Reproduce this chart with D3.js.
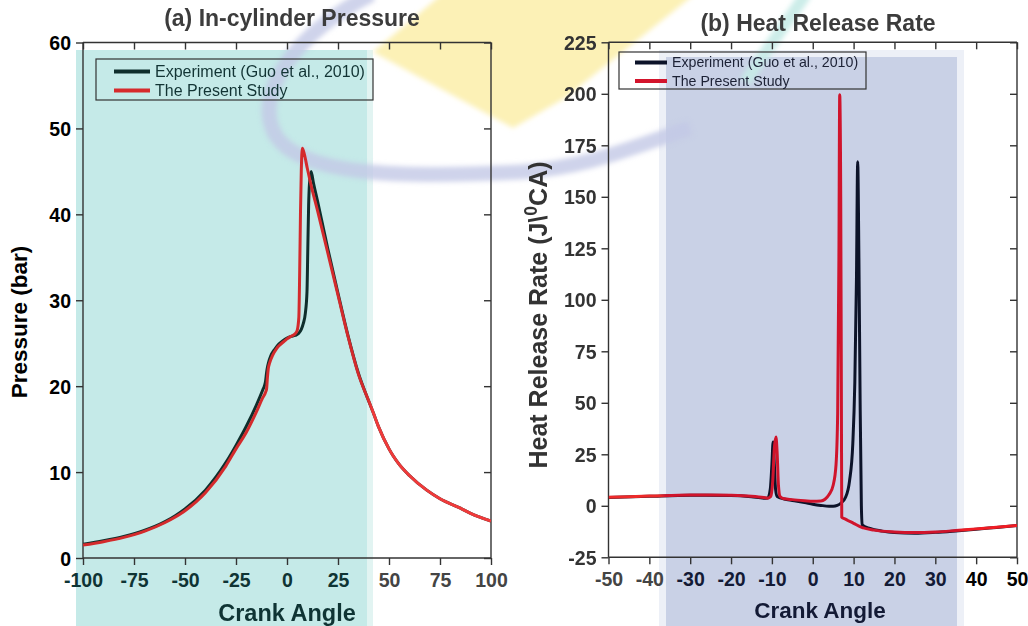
<!DOCTYPE html>
<html>
<head>
<meta charset="utf-8">
<script src="https://cdn.jsdelivr.net/npm/d3@7/dist/d3.min.js"></script>
<style>
  html, body { margin: 0; padding: 0; background: #fff; }
  svg { display: block; font-family: "Liberation Sans", Arial, sans-serif; }
</style>
</head>
<body>
<svg id="chart" width="1028" height="626"></svg>
<script>
// ---------------- DATA ----------------
// (a) In-cylinder pressure [bar] vs crank angle [deg]
const pExpAngle = [-100,-90,-80,-70,-60,-50,-40,-30,-25,-20,-15,-12,-11,-10.5,-10,-9.5,-9,-8,-6,-4,-2,0,2,4,5.5,7,8,9,9.8,10.2,10.6,11,11.8,13,15,18,20,25,30,35,40,42.3,45,50,52,55,60,68.5,75,85,90,100];
const pExp      = [1.6,2.0,2.5,3.2,4.2,5.7,7.9,11.1,13.1,15.3,17.8,19.5,20.1,20.6,21.6,22.3,22.8,23.5,24.3,24.9,25.3,25.6,25.8,25.9,26.1,26.6,27.3,28.5,31,36,41,43.5,45,43.6,41.5,38.2,36.0,30.8,25.8,21.5,18.3,16.9,15.2,12.7,11.9,10.9,9.6,7.9,6.9,5.8,5.2,4.3];
const pSimAngle = [-100,-90,-80,-70,-60,-50,-40,-30,-25,-20,-15,-12,-10.5,-10,-9.6,-9.2,-8.5,-7,-5,-3,-1,0,2,4,5,5.8,6.2,6.6,7,7.5,8.5,10,12,15,20,25,30,35,40,42.3,45,50,52,55,60,68.5,75,85,90,100];
const pSim      = [1.5,1.9,2.4,3.1,4.1,5.5,7.6,10.7,12.7,14.6,17.0,18.6,19.3,19.7,21.0,22.0,22.7,23.6,24.4,24.9,25.3,25.5,25.8,26.1,26.5,28,33,40,45,47.7,47,45.3,43.2,40.4,35.5,30.6,25.7,21.4,18.3,16.9,15.2,12.7,11.9,10.9,9.6,7.9,6.9,5.8,5.2,4.3];

// (b) Heat release rate [J/degCA] vs crank angle [deg]
const hExpAngle = [-50,-40,-30,-20,-15,-12,-11,-10.4,-10,-9.7,-9.4,-9.1,-8.7,-7,-5,-2,0,2,4,5,6,7,8,9,9.8,10.3,10.7,11.0,11.3,11.6,11.9,12.1,14,17,20,25,30,35,40,45,50];
const hExp      = [4.0,4.6,5.1,5.0,4.4,3.7,3.8,8,20,31,20,8,4.5,3.3,2.6,1.6,0.8,0.2,-0.2,-0.2,0.2,1.5,4,12,30,60,110,167,120,50,0,-9.3,-11,-12.3,-13,-13.3,-12.9,-12.2,-11.4,-10.5,-9.6];
const hSimAngle = [-50,-40,-30,-25,-20,-15,-12,-11,-10.3,-9.8,-9.4,-9.0,-8.7,-8.4,-8,-7,-5,-2,0,2,3,4,5,5.7,6.1,6.4,6.6,6.85,7.0,7.1,8,10,12,15,20,25,30,35,40,45,50];
const hSim      = [4.2,4.7,5.2,5.3,5.1,4.6,4.0,3.7,4.5,12,28,33.4,25,10,4.5,3.4,3.0,2.5,2.2,2.3,3.2,5.5,10,20,45,120,199.5,150,60,-5.5,-6.5,-8.5,-10.5,-11.8,-12.7,-13,-12.7,-12,-11.2,-10.4,-9.5];

const pXTicks = [-100,-75,-50,-25,0,25,50,75,100];
const pYTicks = [0,10,20,30,40,50,60];
const hXTicks = [-50,-40,-30,-20,-10,0,10,20,30,40,50];
const hYTicks = [-25,0,25,50,75,100,125,150,175,200,225];

const legendLabels = ["Experiment (Guo et al., 2010)", "The Present Study"];

// ---------------- DRAW ----------------
const svg = d3.select("#chart");
const defs = svg.append("defs");
defs.append("filter").attr("id","soft").append("feGaussianBlur").attr("stdDeviation", 2.5);
const fmt = d => String(d);

// Background shaded bands
svg.append("rect").attr("x",76).attr("y",50).attr("width",297).attr("height",576).attr("fill","#e2f4f2");
svg.append("rect").attr("x",76).attr("y",50).attr("width",291).attr("height",576).attr("fill","#c5eae8");
svg.append("rect").attr("x",659).attr("y",50).attr("width",305).attr("height",576).attr("fill","#edf0f7");
svg.append("rect").attr("x",666).attr("y",57).attr("width",291).attr("height",569).attr("fill","#c9d1e6");

// Watermark decoration
const wm = svg.append("g").attr("filter","url(#soft)");
wm.append("path").attr("d","M447,-10 L373,52 L513,128 L565,98 L700,-10 Z").attr("fill","#fcf1b6");
wm.append("path").attr("d","M372,-6 C300,30 250,92 276,136 C302,176 400,178 520,172 C585,168 625,150 690,128")
  .attr("fill","none").attr("stroke","#c3c8e6").attr("stroke-width",15).attr("opacity",0.8);
wm.append("path").attr("d","M806,-6 L745,82").attr("fill","none").attr("stroke","#c6ebe7").attr("stroke-width",12).attr("opacity",0.9);

function panel(cfg) {
  const g = svg.append("g");
  const x = d3.scaleLinear().domain(cfg.xDomain).range([cfg.left, cfg.right]);
  const y = d3.scaleLinear().domain(cfg.yDomain).range([cfg.bottom, cfg.top]);
  const clipId = "clip" + cfg.id;
  defs.append("clipPath").attr("id", clipId).append("rect")
    .attr("x", cfg.left).attr("y", cfg.top - 2).attr("width", cfg.right - cfg.left).attr("height", cfg.bottom - cfg.top + 2);

  // gradient for the red line (tinted inside the shaded band)
  const gradId = "grad" + cfg.id;
  const gr = defs.append("linearGradient").attr("id", gradId).attr("gradientUnits","userSpaceOnUse")
    .attr("x1", 0).attr("x2", 1028).attr("y1", 0).attr("y2", 0);
  cfg.simStops.forEach(s => gr.append("stop").attr("offset", s[0] / 1028).attr("stop-color", s[1]));

  const axColor = "#333";
  const bottomAx = g.append("g").attr("transform",`translate(0,${cfg.bottom})`)
    .call(d3.axisBottom(x).tickValues(cfg.xTicks).tickSize(7).tickPadding(7).tickFormat(fmt));
  const leftAx = g.append("g").attr("transform",`translate(${cfg.left},0)`)
    .call(d3.axisLeft(y).tickValues(cfg.yTicks).tickSize(7).tickPadding(5).tickFormat(fmt));
  const topAx = g.append("g").attr("transform",`translate(0,${cfg.top})`)
    .call(d3.axisBottom(x).tickValues(cfg.xTicks).tickSize(7).tickFormat(""));
  const rightAx = g.append("g").attr("transform",`translate(${cfg.right},0)`)
    .call(d3.axisLeft(y).tickValues(cfg.yTicks).tickSize(7).tickFormat(""));
  [bottomAx, leftAx, topAx, rightAx].forEach(a => {
    a.select(".domain").attr("stroke", axColor).attr("stroke-width", 1.4);
    a.selectAll(".tick line").attr("stroke", axColor).attr("stroke-width", 1.4);
  });
  topAx.select(".domain").attr("d", `M${cfg.left},0H${cfg.right}`);
  rightAx.select(".domain").attr("d", `M0,${y.range()[0]}V${y.range()[1]}`);
  bottomAx.select(".domain").attr("d", `M${cfg.left},0H${cfg.right}`);
  leftAx.select(".domain").attr("d", `M0,${y.range()[0]}V${y.range()[1]}`);
  bottomAx.selectAll(".tick text").attr("font-size", cfg.tickFont).attr("font-weight","bold")
    .attr("fill", d => cfg.xTickColor(x(d))).attr("dy","0.75em");
  leftAx.selectAll(".tick text").attr("font-size", cfg.tickFont).attr("font-weight","bold").attr("fill", cfg.yTickColor)
    .attr("dy","0.36em");

  // lines
  const line = d3.line().x(d => x(d[0])).y(d => y(d[1])).curve(d3.curveMonotoneX);
  const lg = g.append("g").attr("clip-path", `url(#${clipId})`);
  lg.append("path").datum(d3.zip(cfg.expX, cfg.expY)).attr("d", line)
    .attr("fill","none").attr("stroke", cfg.expColor).attr("stroke-width", 3).attr("stroke-linejoin","round");
  lg.append("path").datum(d3.zip(cfg.simX, cfg.simY)).attr("d", line)
    .attr("fill","none").attr("stroke", `url(#${gradId})`).attr("stroke-width", 3).attr("stroke-linejoin","round");

  // legend
  const L = cfg.legend;
  g.append("rect").attr("x", L.x).attr("y", L.y).attr("width", L.w).attr("height", L.h)
    .attr("fill","none").attr("stroke","#333").attr("stroke-width",1.2);
  legendLabels.forEach((t, i) => {
    const yy = L.y + L.row0 + i * L.rowH;
    g.append("line").attr("x1", L.lx1).attr("x2", L.lx2).attr("y1", yy).attr("y2", yy)
      .attr("stroke", i === 0 ? cfg.expColor : cfg.simColor).attr("stroke-width", 4);
    g.append("text").attr("x", L.tx).attr("y", yy).attr("dy","0.35em").attr("font-size", L.font)
      .attr("fill", L.textColor).text(t);
  });

  // titles
  g.append("text").attr("x", cfg.titleX).attr("y", cfg.titleY).attr("text-anchor","middle")
    .attr("font-size", 23).attr("font-weight","bold").attr("fill","#3c3c3c").text(cfg.title);
  g.append("text").attr("x", cfg.xLabelX).attr("y", cfg.xLabelY).attr("text-anchor","middle")
    .attr("font-size", cfg.xLabelFont).attr("font-weight","bold").attr("fill", cfg.xLabelColor).text("Crank Angle");
  const yl = g.append("text").attr("transform", `translate(${cfg.yLabelX},${cfg.yLabelY}) rotate(-90)`)
    .attr("text-anchor","middle").attr("font-size", cfg.yLabelFont).attr("font-weight","bold").attr("fill", cfg.yLabelColor);
  cfg.yLabelParts.forEach(p => {
    const ts = yl.append("tspan").text(p.t);
    if (p.sup) ts.attr("baseline-shift","super").attr("font-size", cfg.yLabelFont * 0.7);
  });
}

const BS = String.fromCharCode(92);

panel({
  id: "a",
  xDomain: [-100, 100], yDomain: [0, 60],
  left: 83, right: 491, top: 42.5, bottom: 558,
  xTicks: pXTicks, yTicks: pYTicks, tickFont: 19.5,
  xTickColor: px => (px < 370 ? "#0f3434" : "#444"),
  yTickColor: "#000",
  expX: pExpAngle, expY: pExp, simX: pSimAngle, simY: pSim,
  expColor: "#0f2e2c", simColor: "#d62a2c",
  simStops: [[0, "#d42a2c"], [367, "#d42a2c"], [373, "#f03a3a"], [1028, "#f03a3a"]],
  legend: { x: 96, y: 59, w: 277, h: 41, row0: 12.5, rowH: 19, lx1: 114, lx2: 150, tx: 155, font: 16, textColor: "#123434" },
  title: "(a) In-cylinder Pressure", titleX: 292, titleY: 26,
  xLabelX: 287, xLabelY: 621, xLabelFont: 23.5, xLabelColor: "#0f3434",
  yLabelX: 27, yLabelY: 322, yLabelFont: 22.5, yLabelColor: "#000",
  yLabelParts: [{t: "Pressure (bar)"}]
});

panel({
  id: "b",
  xDomain: [-50, 50], yDomain: [-25, 225],
  left: 608.5, right: 1017, top: 42.3, bottom: 557.3,
  xTicks: hXTicks, yTicks: hYTicks, tickFont: 19.5,
  xTickColor: px => (px < 660 ? "#444" : (px > 962 ? "#000" : "#131a35")),
  yTickColor: "#333",
  expX: hExpAngle, expY: hExp, simX: hSimAngle, simY: hSim,
  expColor: "#0c1329", simColor: "#d3142c",
  simStops: [[0, "#ee2a2a"], [660, "#ee2a2a"], [666, "#d0142c"], [957, "#d0142c"], [963, "#f01c24"], [1028, "#f01c24"]],
  legend: { x: 619, y: 52, w: 247, h: 37, row0: 10.5, rowH: 18.5, lx1: 635, lx2: 667, tx: 672, font: 14.2, textColor: "#1c2135" },
  title: "(b) Heat Release Rate", titleX: 818, titleY: 31,
  xLabelX: 820, xLabelY: 618, xLabelFont: 22.5, xLabelColor: "#131a35",
  yLabelX: 547, yLabelY: 315, yLabelFont: 25, yLabelColor: "#333",
  yLabelParts: [{t: "Heat Release Rate (J" + BS}, {t: "0", sup: true}, {t: "CA)"}]
});
</script>
</body>
</html>
